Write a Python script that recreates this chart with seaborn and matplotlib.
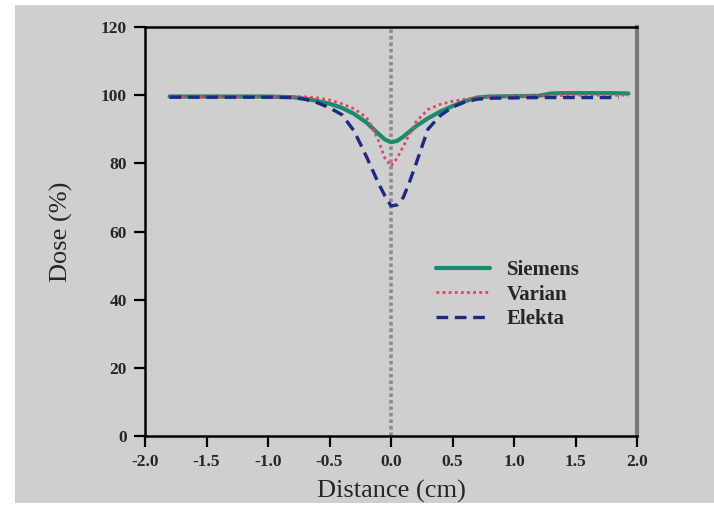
import matplotlib
matplotlib.use("Agg")
import matplotlib.pyplot as plt
import seaborn as sns
import pandas as pd
from matplotlib.patches import Rectangle

# ---- data ----
dist_siemens = [-1.8, -1.6, -1.4, -1.2, -1.0, -0.8, -0.7, -0.6, -0.5, -0.4, -0.3, -0.2, -0.15, -0.1, -0.05,
                0.0, 0.05, 0.1, 0.15, 0.2, 0.3, 0.4, 0.5, 0.6, 0.7, 0.8, 1.0, 1.2, 1.3, 1.4, 1.6, 1.8, 1.93]
dose_siemens = [99.6, 99.6, 99.6, 99.6, 99.6, 99.4, 99.0, 98.3, 97.5, 96.3, 94.5, 92.0, 90.3, 88.6, 87.0,
                86.2, 86.6, 87.8, 89.3, 90.8, 93.2, 95.2, 96.8, 98.2, 99.3, 99.6, 99.7, 99.8, 100.5, 100.6, 100.6, 100.6, 100.5]

dist_varian = [-1.8, -1.6, -1.4, -1.2, -1.0, -0.8, -0.7, -0.6, -0.5, -0.4, -0.3, -0.2, -0.15, -0.1, -0.05,
               0.0, 0.05, 0.1, 0.15, 0.2, 0.3, 0.4, 0.5, 0.6, 0.7, 0.8, 1.0, 1.2, 1.4, 1.6, 1.8, 1.93]
dose_varian = [99.5, 99.5, 99.5, 99.6, 99.6, 99.6, 99.5, 99.2, 98.6, 97.5, 96.0, 93.5, 90.5, 86.5, 81.5,
               79.2, 81.5, 85.0, 88.5, 92.0, 95.8, 97.3, 98.2, 98.8, 99.3, 99.5, 99.7, 99.8, 99.9, 100.0, 100.0, 100.0]

dist_elekta = [-1.8, -1.6, -1.4, -1.2, -1.0, -0.8, -0.7, -0.6, -0.5, -0.4, -0.3, -0.2, -0.15, -0.1, -0.05,
               0.0, 0.05, 0.1, 0.15, 0.2, 0.3, 0.4, 0.5, 0.6, 0.7, 0.8, 1.0, 1.2, 1.4, 1.6, 1.85]
dose_elekta = [99.4, 99.4, 99.4, 99.4, 99.4, 99.3, 98.8, 97.8, 96.3, 94.3, 89.5, 82.0, 78.0, 74.0, 70.5,
               67.5, 67.8, 70.0, 74.5, 79.5, 90.0, 94.0, 96.5, 98.0, 98.8, 99.1, 99.2, 99.3, 99.3, 99.3, 99.3]

series_names = ["Siemens", "Varian", "Elekta"]
x_ticks = [-2.0, -1.5, -1.0, -0.5, 0.0, 0.5, 1.0, 1.5, 2.0]
y_ticks = [0, 20, 40, 60, 80, 100, 120]

df = pd.concat([
    pd.DataFrame({"Distance": dist_siemens, "Dose": dose_siemens, "Linac": series_names[0]}),
    pd.DataFrame({"Distance": dist_varian, "Dose": dose_varian, "Linac": series_names[1]}),
    pd.DataFrame({"Distance": dist_elekta, "Dose": dose_elekta, "Linac": series_names[2]}),
], ignore_index=True)

# ---- style ----
sns.set_style("ticks")
plt.rcParams["font.family"] = ["Liberation Serif", "DejaVu Serif"]
bg = "#cfcfcf"

fig = plt.figure(figsize=(7.14, 5.09), dpi=100, facecolor="white")
fig.patches.append(Rectangle((15 / 714, 6 / 509), 1.0, 1 - 11 / 509, transform=fig.transFigure,
                             facecolor=bg, edgecolor="none", zorder=-10))
ax = fig.add_axes([145 / 714, 1 - 436 / 509, (637 - 145) / 714, (436 - 27) / 509])
ax.set_facecolor(bg)

palette = {"Siemens": "#1b8a6e", "Varian": "#e2445e", "Elekta": "#1c2a82"}
dashes = {"Siemens": "", "Varian": (1, 1.2), "Elekta": (3.5, 2)}
sizes = {"Siemens": 3.0, "Varian": 2.0, "Elekta": 2.4}

ax.axvline(0, color="#8c8c8c", ls=(0, (1, 0.8)), lw=2.6, zorder=1)

sns.lineplot(data=df, x="Distance", y="Dose", hue="Linac", style="Linac", size="Linac",
             palette=palette, dashes=dashes, sizes=sizes, hue_order=series_names,
             style_order=series_names, size_order=series_names, sort=False,
             estimator=None, ax=ax, zorder=3)

ax.set_xlim(-2.0, 2.0)
ax.set_ylim(0, 120)
ax.set_xticks(x_ticks)
ax.set_xticklabels([f"{v:.1f}" for v in x_ticks])
ax.set_yticks(y_ticks)
ax.set_yticklabels([str(v) for v in y_ticks])
ax.tick_params(axis="both", direction="out", length=8, width=1.6, color="black",
               labelsize=12.5, pad=5)
for lab in ax.get_xticklabels() + ax.get_yticklabels():
    lab.set_fontweight("bold")

for side in ["left", "top", "bottom"]:
    ax.spines[side].set_color("black")
    ax.spines[side].set_linewidth(1.8)
ax.spines["right"].set_color("#777777")
ax.spines["right"].set_linewidth(3)

ax.set_xlabel("Distance (cm)", fontsize=19, labelpad=7)
ax.set_ylabel("Dose (%)", fontsize=19, labelpad=20)

handles, labels = ax.get_legend_handles_labels()
leg = ax.legend(handles[-3:] if len(handles) > 3 else handles,
                labels[-3:] if len(labels) > 3 else labels,
                loc="upper left", bbox_to_anchor=(0.553, 0.475), frameon=False,
                handlelength=2.6, handletextpad=0.8, labelspacing=0.2,
                prop={"family": "Liberation Serif", "weight": "bold", "size": 15})

fig.savefig("out.png", dpi=100, facecolor=fig.get_facecolor())
